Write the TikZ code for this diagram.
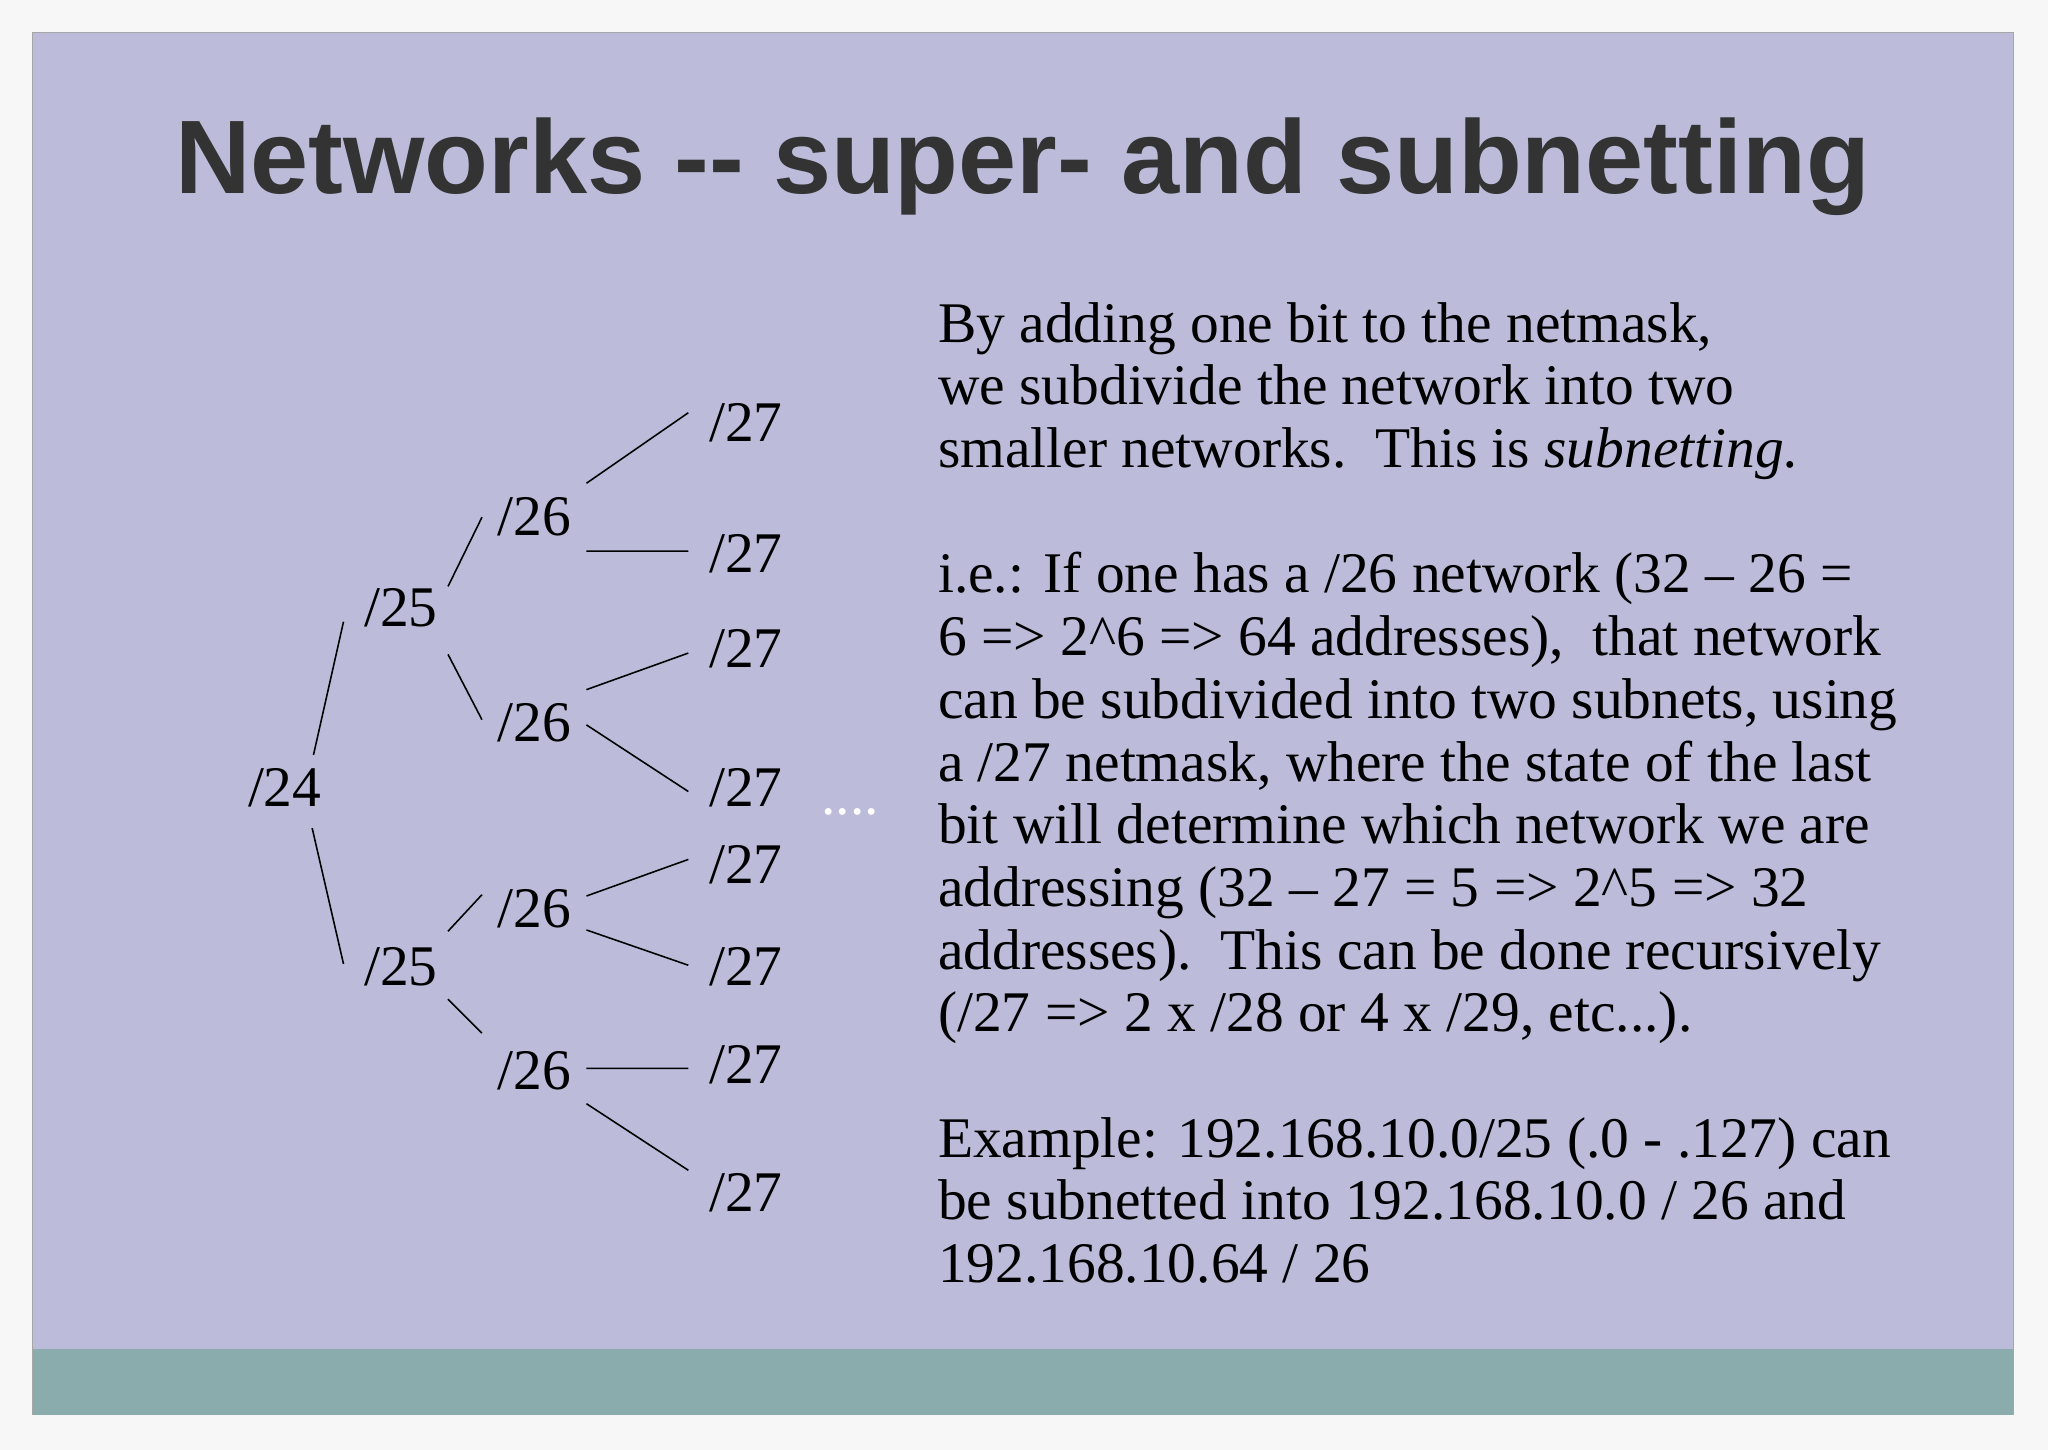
\documentclass[tikz,border=0pt]{standalone}
\usepackage{fontspec}
\setmainfont{Liberation Serif}
\newfontfamily\titlefont{Liberation Sans}
\definecolor{slide}{HTML}{BCBCDA}
\definecolor{band}{HTML}{8AACAC}
\definecolor{ttl}{HTML}{333333}
\begin{document}
\begin{tikzpicture}[x=1pt,y=-1pt,
  lab/.style={font=\fontsize{44}{48}\selectfont,inner sep=0pt},
  txt/.style={font=\fontsize{44}{48}\selectfont,anchor=base west,inner sep=0pt},
  br/.style={line width=1.2pt}]
\useasboundingbox (0,0) rectangle (1568,1110);
\fill[white!97!black] (0,0) rectangle (1568,1110);
\fill[slide,draw=gray!70] (25,25) rectangle (1541,1083);
\fill[band] (25,1033) rectangle (1541,1083);
\node[font=\titlefont\bfseries\fontsize{80}{90}\selectfont,text=ttl,anchor=base,inner sep=0pt] (title) at (783,148) {Networks -- super- and subnetting};
% tree
\node[lab] (n24) at (218,603) {/24};
\node[lab] (n25a) at (307,465) {/25};
\node[lab] (n25b) at (307,740) {/25};
\node[lab] (n26a) at (409,396) {/26};
\node[lab] (n26b) at (409,553) {/26};
\node[lab] (n26c) at (409,696) {/26};
\node[lab] (n26d) at (409,820) {/26};
\foreach \n/\y in {a/324,b/424,c/497,d/603,e/662,f/740,g/815,h/913}
  \node[lab] (n27\n) at (571,\y) {/27};
\node[lab,text=white] (dots) at (651,622) {....};
\draw[br] (240,578)--(263,476) (239,634)--(263,738)
 (343,449)--(369,396) (343,501)--(369,551) (343,713)--(369,685) (343,765)--(369,791)
 (449,370)--(527,316) (449,422)--(527,422)
 (449,528)--(527,500) (449,555)--(527,606)
 (449,686)--(527,658) (449,712)--(527,739)
 (449,818)--(527,818) (449,845)--(527,896);
% text
\node[txt] (t1) at (718,262) {By adding one bit to the netmask,};
\node[txt] (t2) at (718,310) {we subdivide the network into two};
\node[txt] (t3) at (718,358) {smaller networks.\ \ This is \textit{subnetting.}};
\node[txt] (t4) at (718,454) {i.e.: If one has a /26 network (32 -- 26 =};
\node[txt] (t5) at (718,502) {6 => 2\^{}6 => 64 addresses),\ \ that network};
\node[txt] (t6) at (718,550) {can be subdivided into two subnets, using};
\node[txt] (t7) at (718,598) {a /27 netmask, where the state of the last};
\node[txt] (t8) at (718,646) {bit will determine which network we are};
\node[txt] (t9) at (718,694) {addressing (32 -- 27 = 5 => 2\^{}5 => 32};
\node[txt] (t10) at (718,742) {addresses).\ \ This can be done recursively};
\node[txt] (t11) at (718,790) {(/27 => 2 x /28 or 4 x /29, etc...).};
\node[txt] (t12) at (718,886) {Example: 192.168.10.0/25 (.0 - .127) can};
\node[txt] (t13) at (718,934) {be subnetted into 192.168.10.0 / 26 and};
\node[txt] (t14) at (718,982) {192.168.10.64 / 26};
\end{tikzpicture}
\end{document}
